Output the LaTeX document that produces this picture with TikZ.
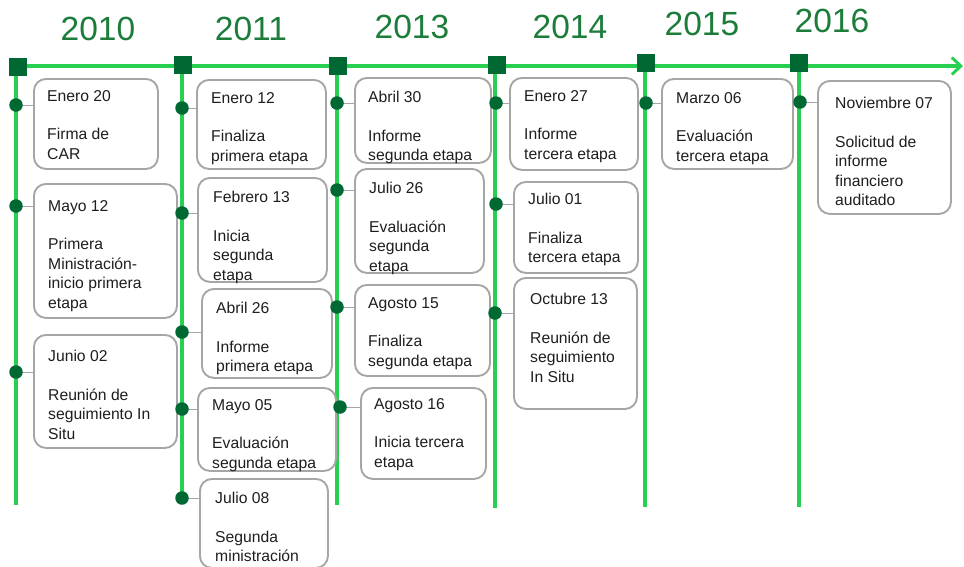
\documentclass[tikz,border=0pt]{standalone}
\usepackage{fontspec}
\setmainfont{Liberation Sans}
\usetikzlibrary{arrows.meta}
\definecolor{lgreen}{RGB}{40,208,82}
\definecolor{dgreen}{RGB}{0,104,50}
\definecolor{ygreen}{RGB}{28,124,58}
\definecolor{boxgray}{RGB}{166,166,166}
\definecolor{txt}{RGB}{30,30,30}
\newcommand\ev[9]{%
  \node[evbox, minimum width={(#5)-(#3)}, minimum height={(#6)-(#4)}] (#1b) at (#3,#4) {};
  \coordinate (#1c) at (#2);
  \draw[evline] (#1c) -- (#1c -| #1b.west);
  \node[evdot] (#1d) at (#1c) {};
  \node[evtext] (#1t) at (#7,#8) {#9};
}
\begin{document}
\begin{tikzpicture}[x=1pt,y=-1pt,
  gline/.style={draw=lgreen, line width=3.6pt},
  sqnode/.style={fill=dgreen, draw=none, minimum size=17.5pt, inner sep=0pt},
  yearlbl/.style={text=ygreen, font=\fontsize{33.5}{33.5}\selectfont, inner sep=0pt},
  evbox/.style={draw=boxgray, line width=1.9pt, rounded corners=12pt, anchor=north west, inner sep=0pt, fill=white},
  evline/.style={draw=boxgray, line width=0.9pt},
  evdot/.style={circle, fill=dgreen, draw=none, minimum size=13.5pt, inner sep=0pt},
  evtext/.style={anchor=north west, inner sep=0pt, align=left, text=txt, font=\fontsize{15.7}{19.4}\selectfont}
]
\useasboundingbox (0,0) rectangle (964,566);
\fill[white] (0,0) rectangle (964,566);
% year positions
\coordinate (q2010) at (18,67);
\coordinate (q2011) at (183,65);
\coordinate (q2013) at (338,66);
\coordinate (q2014) at (497,65);
\coordinate (q2015) at (646,63);
\coordinate (q2016) at (799,63);
\coordinate (e2010) at (16,505);
\coordinate (e2011) at (182,500);
\coordinate (e2013) at (337,505);
\coordinate (e2014) at (495,508);
\coordinate (e2015) at (645,507);
\coordinate (e2016) at (799,507);
\coordinate (hstart) at (12,66);
\coordinate (hend) at (963,66);
\draw[gline, -{Straight Barb[length=9pt,width=17pt,line width=3pt]}] (hstart) -- (hend);
\foreach \y in {2010,2011,2013,2014,2015,2016}{
  \draw[gline] (q\y -| e\y) -- (e\y);
}
\foreach \y in {2010,2011,2013,2014,2015,2016}{
  \node[sqnode] (s\y) at (q\y) {};
}
\node[yearlbl] (y2010) at (98,29) {2010};
\node[yearlbl] (y2011) at (251,29) {2011};
\node[yearlbl] (y2013) at (412,27) {2013};
\node[yearlbl] (y2014) at (570,27) {2014};
\node[yearlbl] (y2015) at (702,24) {2015};
\node[yearlbl] (y2016) at (832,21) {2016};
% 2010
\ev{a1}{16,105}{33}{78}{157}{168}{47}{90}{Enero 20\\[19.4pt]Firma de\\CAR}
\ev{a2}{16,206}{33}{183}{176}{317}{48}{200}{Mayo 12\\[19.4pt]Primera\\Ministración-\\inicio primera\\etapa}
\ev{a3}{16,372}{33}{334}{176}{447}{48}{350}{Junio 02\\[19.4pt]Reunión de\\seguimiento In\\Situ}
% 2011
\ev{b1}{182,108}{196}{79}{325}{168}{211}{92}{Enero 12\\[19.4pt]Finaliza\\primera etapa}
\ev{b2}{182,213}{197}{177}{326}{281}{213}{191}{Febrero 13\\[19.4pt]Inicia\\segunda\\etapa}
\ev{b3}{182,332}{201}{288}{331}{377}{216}{302}{Abril 26\\[19.4pt]Informe\\primera etapa}
\ev{b4}{182,409}{197}{387}{335}{470}{212}{399}{Mayo 05\\[19.4pt]Evaluación\\segunda etapa}
\ev{b5}{182,498}{199}{478}{327}{567}{215}{492}{Julio 08\\[19.4pt]Segunda\\ministración}
% 2013
\ev{c1}{337,103}{354}{77}{490}{162}{368}{91}{Abril 30\\[19.4pt]Informe\\segunda etapa}
\ev{c2}{337,190}{354}{168}{483}{272}{369}{182}{Julio 26\\[19.4pt]Evaluación\\segunda\\etapa}
\ev{c3}{337,307}{354}{284}{489}{375}{368}{297}{Agosto 15\\[19.4pt]Finaliza\\segunda etapa}
\ev{c4}{340,407}{360}{387}{485}{478}{374}{398}{Agosto 16\\[19.4pt]Inicia tercera\\etapa}
% 2014
\ev{d1}{496,103}{509}{77}{637}{169}{524}{90}{Enero 27\\[19.4pt]Informe\\tercera etapa}
\ev{d2}{496,204}{513}{181}{637}{272}{528}{193}{Julio 01\\[19.4pt]Finaliza\\tercera etapa}
\ev{d3}{495,313}{513}{277}{636}{408}{530}{293}{Octubre 13\\[19.4pt]Reunión de\\seguimiento\\In Situ}
% 2015
\ev{f1}{646,103}{661}{78}{792}{168}{676}{92}{Marzo 06\\[19.4pt]Evaluación\\tercera etapa}
% 2016
\ev{g1}{800,102}{817}{80}{950}{213}{835}{97}{Noviembre 07\\[19.4pt]Solicitud de\\informe\\financiero\\auditado}
\end{tikzpicture}
\end{document}
